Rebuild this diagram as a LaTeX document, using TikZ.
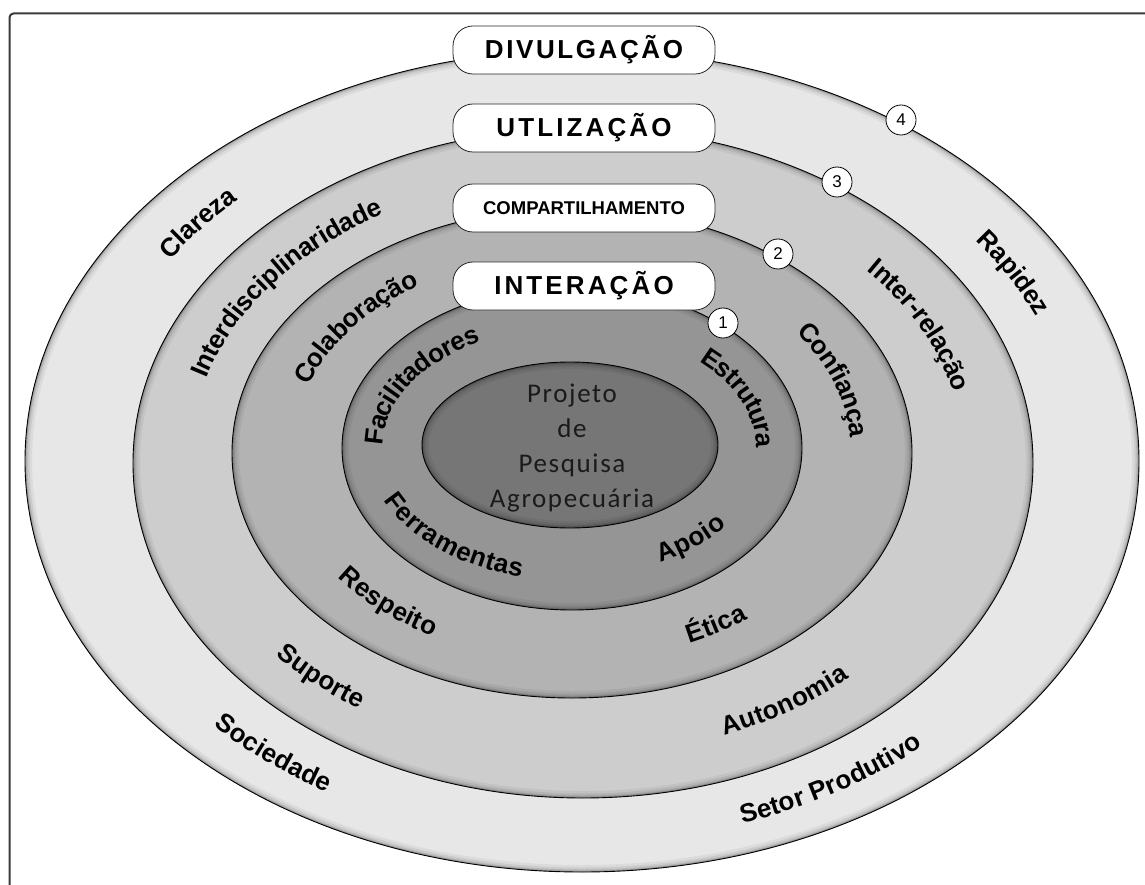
\documentclass[tikz,border=0pt]{standalone}
\usepackage{fontspec}
\setmainfont{Liberation Sans}
\newfontfamily\corefont{Carlito}
\usetikzlibrary{decorations.text}

\definecolor{bandfour}{HTML}{E7E7E7}
\definecolor{bandthree}{HTML}{CDCDCD}
\definecolor{bandtwo}{HTML}{B3B3B3}
\definecolor{bandone}{HTML}{959595}
\definecolor{corefill}{HTML}{767676}
\definecolor{coretext}{HTML}{1A1A1A}
\definecolor{framegray}{HTML}{3A3A3A}

\newcommand\lblfont{\fontsize{26pt}{26pt}\selectfont\bfseries}

% filled ellipse with a soft inner shadow and a black rim
\newcommand\ringdisc[5]{%
  \fill[#5] (#1,#2) ellipse [x radius=#3pt, y radius=#4pt];
  \begin{scope}
    \clip (#1,#2) ellipse [x radius=#3pt, y radius=#4pt];
    \foreach \w/\o in {14/0.05, 9/0.07, 5/0.10, 2.5/0.16}
      \draw[black, opacity=\o, line width=\w pt] (#1,#2) ellipse [x radius=#3pt, y radius=#4pt];
  \end{scope}
  \draw[black, line width=0.9pt] (#1,#2) ellipse [x radius=#3pt, y radius=#4pt];
}

% word set along an elliptic arc centred at angle #5;
% #6 > 0 runs clockwise (upper half), #6 < 0 anticlockwise (lower half)
\newcommand\arclabel[7]{%
  \path[decorate, decoration={text along path, text align=center, raise=-8pt,
        text={|\lblfont|#7}}]
    (#1,#2) ++({#5+(#6)}:#3pt and #4pt)
    arc[start angle={#5+(#6)}, end angle={#5-(#6)}, x radius=#3pt, y radius=#4pt];
}

\tikzset{
  tagbox/.style={draw=black!85, fill=white, rounded corners=20pt, line width=0.8pt,
    minimum width=262pt, minimum height=48pt, inner sep=0pt, text=black},
  numdot/.style={circle, draw=black, fill=white, line width=0.8pt,
    minimum size=30pt, inner sep=0pt, font=\fontsize{17pt}{17pt}\selectfont},
}

\begin{document}
\begin{tikzpicture}[x=1pt, y=1pt]
\useasboundingbox (0,0) rectangle (1145,-885);
\clip (0,0) rectangle (1145,-885);
\fill[white] (0,0) rectangle (1145,-885);

% frame
\draw[framegray, line width=2pt, rounded corners=4pt] (9.5,-900) -- (9.5,-13.5) -- (1160,-13.5);

% nested rings, outermost first
\ringdisc{582}{-461}{557}{411}{bandfour}
\ringdisc{583}{-463}{450}{335}{bandthree}
\ringdisc{572}{-453}{340}{245}{bandtwo}
\ringdisc{572}{-448}{230}{162}{bandone}
\ringdisc{570}{-445}{148}{83}{corefill}

% core
\node[font=\corefont\fontsize{27pt}{35pt}\selectfont\addfontfeatures{LetterSpace=6},
      text=coretext, align=center, inner sep=0pt] (core) at (572,-448)
  {Projeto\\de\\Pesquisa\\Agropecuária};

% outer band
\arclabel{582.5}{-462}{503}{373}{141}{20}{Clareza}
\arclabel{582.5}{-462}{503}{373}{29.7}{20}{Rapidez}
\arclabel{582.5}{-462}{503}{373}{231}{-20}{Sociedade}
\arclabel{582.5}{-462}{503}{373}{301}{-25}{Setor Produtivo}

% third band
\arclabel{577.5}{-458}{395}{290}{143}{32}{Interdisciplinaridade}
\arclabel{577.5}{-458}{395}{290}{26.5}{27}{Inter-relação}
\arclabel{577.5}{-458}{395}{290}{228.4}{-20}{Suporte}
\arclabel{577.5}{-458}{395}{290}{303}{-24}{Autonomia}

% second band
\arclabel{572}{-450}{287}{205}{143.5}{32}{Colaboração}
\arclabel{572}{-450}{287}{205}{19}{30}{Confiança}
\arclabel{572}{-450}{285}{203.5}{227.8}{-25}{Respeito}
\arclabel{572}{-450}{285}{203.5}{301.3}{-20}{Ética}

% first band
\arclabel{571}{-446}{196}{127}{152}{48}{Facilitadores}
\arclabel{571}{-446}{193}{125}{20.3}{42}{Estrutura}
\arclabel{571}{-446}{196}{127}{225}{-48}{Ferramentas}
\arclabel{571}{-446}{189}{122.5}{311.6}{-25}{Apoio}

% stage tags on top of each ring
\node[tagbox, font=\fontsize{26pt}{26pt}\selectfont\bfseries\addfontfeatures{LetterSpace=10}]
  (divulg) at (584,-50) {DIVULGAÇÃO};
\node[tagbox, font=\fontsize{26pt}{26pt}\selectfont\bfseries\addfontfeatures{LetterSpace=12}]
  (utiliz) at (584,-128) {UTLIZAÇÃO};
\node[tagbox, font=\fontsize{18.5pt}{18.5pt}\selectfont\bfseries]
  (compart) at (584,-208) {COMPARTILHAMENTO};
\node[tagbox, font=\fontsize{26pt}{26pt}\selectfont\bfseries\addfontfeatures{LetterSpace=12}]
  (interac) at (584,-286) {INTERAÇÃO};

% stage numbers on the ring rims
\node[numdot] (nfour) at (901,-120) {4};
\node[numdot] (nthree) at (837,-182) {3};
\node[numdot] (ntwo) at (778,-254) {2};
\node[numdot] (none) at (723,-323) {1};
\end{tikzpicture}
\end{document}
